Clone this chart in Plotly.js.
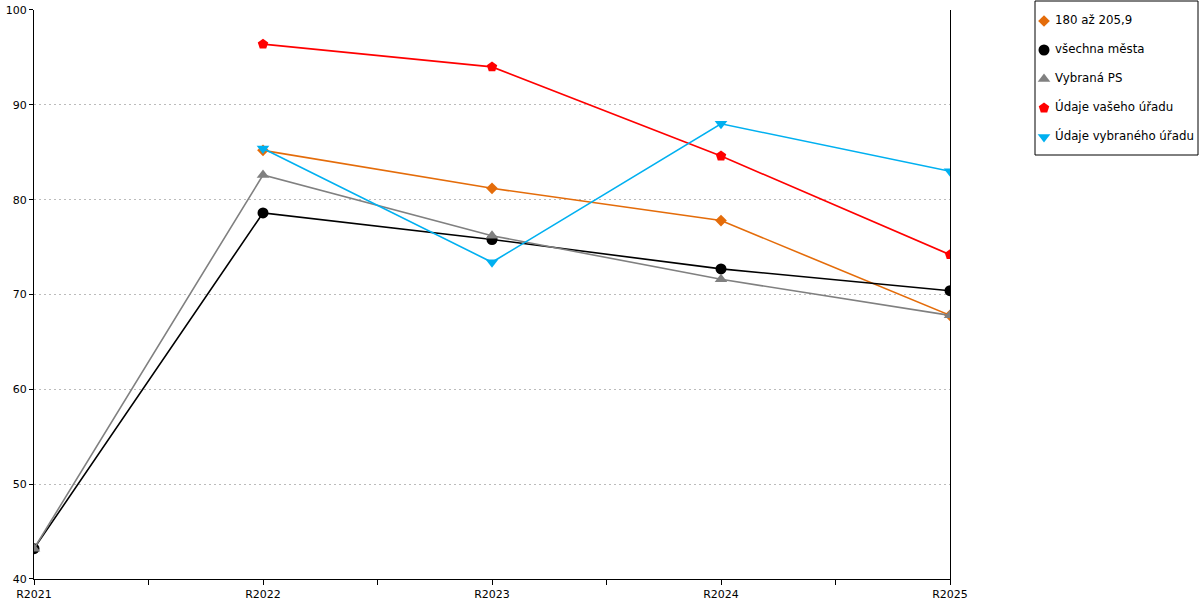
<!DOCTYPE html>
<html><head><meta charset="utf-8">
<script src="https://cdn.plot.ly/plotly-3.0.1.min.js"></script>
<style>body{margin:0;background:#fff}#c{width:1200px;height:600px}</style>
</head><body><div id="c"></div>
<script>
var categories = ["R2021","R2022","R2023","R2024","R2025"];
var seriesNames = ["180 až 205,9","všechna města","Vybraná PS","Údaje vašeho úřadu","Údaje vybraného úřadu"];
var s180 = [null, 85.2, 81.2, 77.8, 67.8];
var sVsechna = [43.2, 78.6, 75.8, 72.7, 70.4];
var sPS = [43.2, 82.6, 76.2, 71.6, 67.8];
var sVas = [null, 96.4, 94.0, 84.6, 74.2];
var sVybrany = [null, 85.4, 73.4, 88.0, 83.0];

var colors = ["#e46c0a","#000000","#808080","#ff0000","#00b0f0"];
var symbols = ["diamond","circle","triangle-up","pentagon","triangle-down"];
var sizes = [9,11,11,11,11];
var values = [s180, sVsechna, sPS, sVas, sVybrany];
var xIdx = categories.map(function(_, i){return i;});
var legendIdx = seriesNames.map(function(_, i){return i;});

var traces = values.map(function(v, k){
  return {
    x: xIdx, y: v, name: seriesNames[k], type: 'scatter', mode: 'lines+markers',
    line: {color: colors[k], width: 1.6},
    marker: {color: colors[k], symbol: symbols[k], size: sizes[k], opacity: 1},
    showlegend: false, connectgaps: false, xaxis: 'x', yaxis: 'y'
  };
});
// legend drawn as a small panel (markers + real text)
traces.push({
  x: legendIdx.map(function(){return 9;}), y: legendIdx, type: 'scatter', mode: 'markers',
  marker: {color: colors, symbol: symbols, size: sizes, opacity: 1, line: {width: 0}},
  xaxis: 'x2', yaxis: 'y2', showlegend: false, hoverinfo: 'skip'
});
traces.push({
  x: legendIdx.map(function(){return 20;}), y: legendIdx, type: 'scatter', mode: 'text',
  text: seriesNames, textposition: 'middle right',
  textfont: {size: 11.8, family: 'DejaVu Sans, Verdana, sans-serif', color: '#000'},
  xaxis: 'x2', yaxis: 'y2', showlegend: false, hoverinfo: 'skip'
});

var tickvals = [], ticktext = [];
for (var i = 0; i < categories.length; i++) {
  tickvals.push(i); ticktext.push(categories[i]);
  if (i < categories.length - 1) { tickvals.push(i + 0.5); ticktext.push(""); }
}

var layout = {
  width: 1200, height: 600,
  margin: {l: 34, r: 2, t: 1, b: 21, pad: 0, autoexpand: false},
  paper_bgcolor: '#fff', plot_bgcolor: 'rgba(0,0,0,0)',
  font: {family: 'DejaVu Sans, Verdana, sans-serif', size: 11, color: '#000'},
  showlegend: false,
  xaxis: {
    domain: [0, 0.78694],
    range: [0, 4], tickmode: 'array', tickvals: tickvals, ticktext: ticktext,
    showgrid: false, zeroline: false, showline: true, linecolor: '#000', linewidth: 1,
    ticks: 'outside', ticklen: 5, tickcolor: '#000', tickfont: {size: 11},
    fixedrange: true
  },
  yaxis: {
    domain: [0, 0.98443],
    range: [40, 100], dtick: 10, tick0: 40,
    showgrid: true, gridcolor: '#bbbbbb', griddash: '2px,3px', gridwidth: 1,
    zeroline: false, showline: true, linecolor: '#000', linewidth: 1, mirror: true,
    ticks: 'outside', ticklen: 4, tickcolor: '#000', tickfont: {size: 11},
    fixedrange: true
  },
  xaxis2: {domain: [0.85997, 1], range: [0, 163], visible: false, fixedrange: true, anchor: 'y2'},
  yaxis2: {domain: [0.73356, 1], range: [4.62, -0.69], visible: false, fixedrange: true, anchor: 'x2'},
  shapes: [{
    type: 'rect', xref: 'x2 domain', yref: 'y2 domain', x0: 0, x1: 1, y0: 0, y1: 1,
    line: {color: '#000', width: 1}, fillcolor: 'rgba(0,0,0,0)'
  }]
};
Plotly.newPlot('c', traces, layout, {displayModeBar: false, staticPlot: true});
</script></body></html>
